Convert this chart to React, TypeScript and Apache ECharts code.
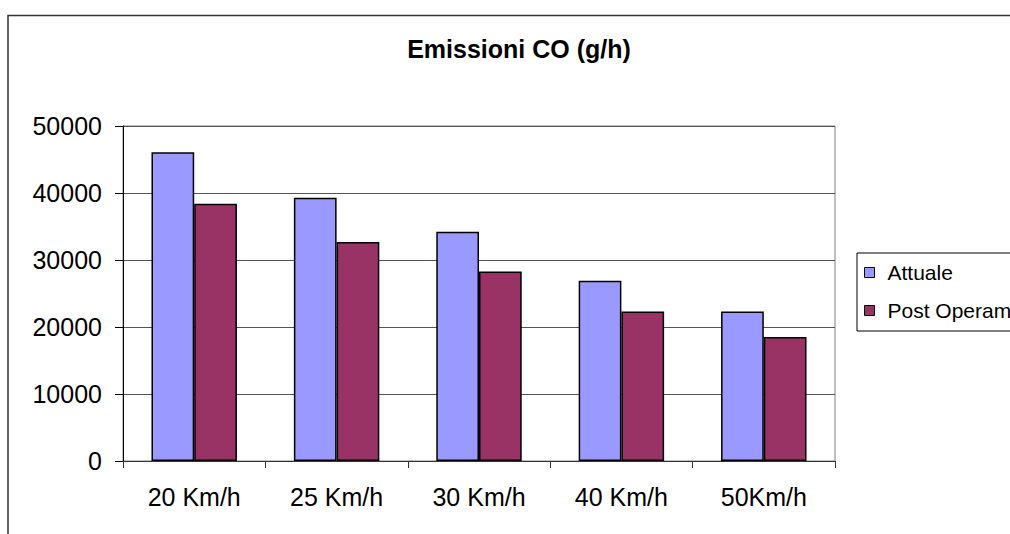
import React, { useEffect, useRef } from "react";
import * as echarts from "echarts";

const categories = ["20 Km/h", "25 Km/h", "30 Km/h", "40 Km/h", "50Km/h"];
const attuale = [46100, 39300, 34200, 26900, 22300];
const postOperam = [38400, 32700, 28300, 22300, 18500];
const seriesNames = ["Attuale", "Post Operam"];
const titleText = "Emissioni CO (g/h)";

const FONT = "'Liberation Sans', Arial, sans-serif";

export default function App() {
  const ref = useRef<HTMLDivElement>(null);
  useEffect(() => {
    const chart = echarts.init(ref.current!, null, { renderer: "svg" });
    chart.setOption({
      animation: false,
      backgroundColor: "#ffffff",
      textStyle: { fontFamily: FONT },
      graphic: [
        {
          type: "rect",
          shape: { x: 8, y: 15.5, width: 1100, height: 700 },
          style: { fill: "none", stroke: "#333", lineWidth: 1.5 },
          silent: true,
        },
        {
          type: "text",
          x: 519,
          y: 49,
          style: {
            text: titleText,
            fontFamily: FONT,
            fontSize: 25,
            fontWeight: "bold",
            fill: "#000",
            align: "center",
            verticalAlign: "middle",
          },
        },
      ],
      legend: {
        data: seriesNames,
        orient: "vertical",
        left: 857,
        top: 253,
        itemWidth: 10,
        itemHeight: 10,
        itemGap: 17,
        padding: [9, 40, 10, 7],
        borderColor: "#000",
        borderWidth: 1,
        icon: "rect",
        selectedMode: false,
        itemStyle: { borderColor: "#000", borderWidth: 1 },
        textStyle: {
          fontFamily: FONT,
          fontSize: 21,
          color: "#000",
          lineHeight: 20,
          padding: [0, 0, 0, 8],
        },
      },
      grid: {
        left: 123,
        top: 126,
        width: 712,
        height: 335,
        show: true,
        borderColor: "#808080",
        borderWidth: 1,
      },
      xAxis: {
        type: "category",
        data: categories,
        axisLine: { lineStyle: { color: "#333", width: 1 } },
        axisTick: { show: true, length: 7, lineStyle: { color: "#333" } },
        axisLabel: { fontSize: 25, color: "#000", margin: 23, fontFamily: FONT },
        splitLine: { show: false },
      },
      yAxis: {
        type: "value",
        min: 0,
        max: 50000,
        interval: 10000,
        axisLine: { show: true, lineStyle: { color: "#000", width: 1 } },
        axisTick: { show: true, length: 8, lineStyle: { color: "#000" } },
        axisLabel: {
          fontSize: 25,
          color: "#000",
          margin: 21,
          fontFamily: FONT,
          formatter: (v: number) => String(v),
        },
        splitLine: { show: true, lineStyle: { color: "#555", width: 1 } },
      },
      series: [
        {
          name: seriesNames[0],
          type: "bar",
          data: attuale,
          barGap: "0%",
          barCategoryGap: "40%",
          itemStyle: { color: "#9999FF", borderColor: "#000", borderWidth: 1.5 },
        },
        {
          name: seriesNames[1],
          type: "bar",
          data: postOperam,
          barGap: "0%",
          barCategoryGap: "40%",
          itemStyle: { color: "#993366", borderColor: "#000", borderWidth: 1.5 },
        },
      ],
    });
    return () => chart.dispose();
  }, []);
  return (
    <div
      ref={ref}
      style={{
        position: "absolute",
        left: 0,
        top: 0,
        width: 1010,
        height: 534,
        overflow: "hidden",
        background: "#fff",
      }}
    />
  );
}
